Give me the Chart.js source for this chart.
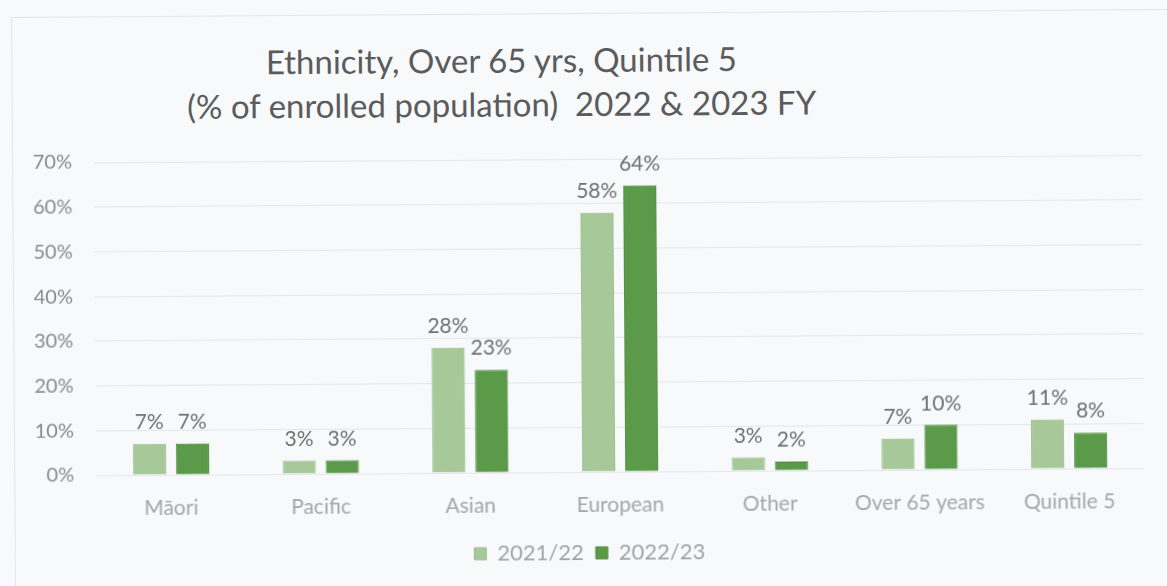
<!DOCTYPE html>
<html>
<head>
<meta charset="utf-8">
<script src="https://cdn.jsdelivr.net/npm/chart.js@4"></script>
<style>
  html, body { margin: 0; padding: 0; background: #f7f9fb; overflow: hidden; }
  #wrap {
    position: relative; width: 1167px; height: 586px;
    transform: rotate(-0.4deg); transform-origin: 50% 50%;
  }
  #frame {
    position: absolute; left: 13px; top: 13px; width: 1200px; height: 620px;
    border: 1px solid #e1e5ea; box-sizing: border-box;
  }
  #title {
    position: absolute; left: 0; top: 37px; width: 1006px;
    text-align: center; white-space: pre;
    font-family: Lato, "Open Sans", sans-serif; font-size: 33px; line-height: 44px;
    color: #5b5b5b;
  }
  canvas { position: absolute; left: 0; top: 0; }
</style>
</head>
<body>
<div id="wrap">
  <div id="frame"></div>
  <div id="title">Ethnicity, Over 65 yrs, Quintile 5
(% of enrolled population)  2022 &amp; 2023 FY</div>
  <canvas id="chart" width="1167" height="586"></canvas>
</div>
<script>
// ===== データ =====
const categories = ['Māori', 'Pacific', 'Asian', 'European', 'Other', 'Over 65 years', 'Quintile 5'];
const fy2122 = [7, 3, 28, 58, 3, 7, 11];
const fy2223 = [7, 3, 23, 64, 2, 10, 8];
const seriesNames = ['2021/22', '2022/23'];
const yTicks = [0, 10, 20, 30, 40, 50, 60, 70];

const FONT = 'Lato, "Open Sans", sans-serif';

// 棒の上に値ラベル
const valueLabels = {
  id: 'valueLabels',
  afterDatasetsDraw(chart) {
    const ctx = chart.ctx;
    ctx.save();
    ctx.font = '21px ' + FONT;
    ctx.fillStyle = '#707070';
    ctx.textAlign = 'center';
    ctx.textBaseline = 'bottom';
    chart.data.datasets.forEach((ds, i) => {
      chart.getDatasetMeta(i).data.forEach((bar, j) => {
        ctx.fillText(ds.data[j] + '%', bar.x, bar.y - 11);
      });
    });
    ctx.restore();
  },
};

new Chart(document.getElementById('chart'), {
  type: 'bar',
  data: {
    labels: categories,
    datasets: [
      {
        label: seriesNames[0],
        data: fy2122,
        backgroundColor: '#a7c99a',
        borderColor: '#9abd8c',
        borderWidth: 1,
      },
      {
        label: seriesNames[1],
        data: fy2223,
        backgroundColor: '#5b9a48',
        borderColor: '#4d8a3b',
        borderWidth: 1,
      },
    ],
  },
  options: {
    responsive: false,
    animation: false,
    datasets: { bar: { categoryPercentage: 0.575, barPercentage: 0.77 } },
    layout: { padding: { left: 33, right: 24, top: 159, bottom: 12 } },
    plugins: {
      title: { display: false },
      tooltip: { enabled: false },
      legend: {
        position: 'bottom',
        labels: {
          boxWidth: 12, boxHeight: 12, padding: 12,
          color: '#a3a3a3',
          font: { family: FONT, size: 22 },
        },
      },
    },
    scales: {
      x: {
        grid: { display: false },
        border: { display: false },
        ticks: { color: '#a6a6a6', padding: 13, font: { family: FONT, size: 21 } },
        afterFit: s => { s.height = 58; },
      },
      y: {
        min: 0, max: 70,
        afterBuildTicks: s => { s.ticks = yTicks.map(v => ({ value: v })); },
        grid: { color: '#e2e6ea', lineWidth: 1, drawTicks: false },
        border: { display: false },
        ticks: {
          color: '#8a8a8a', padding: 22,
          font: { family: FONT, size: 20 },
          callback: v => v + '%',
        },
        afterFit: s => { s.width = 62; },
      },
    },
  },
  plugins: [valueLabels],
});
</script>
</body>
</html>
